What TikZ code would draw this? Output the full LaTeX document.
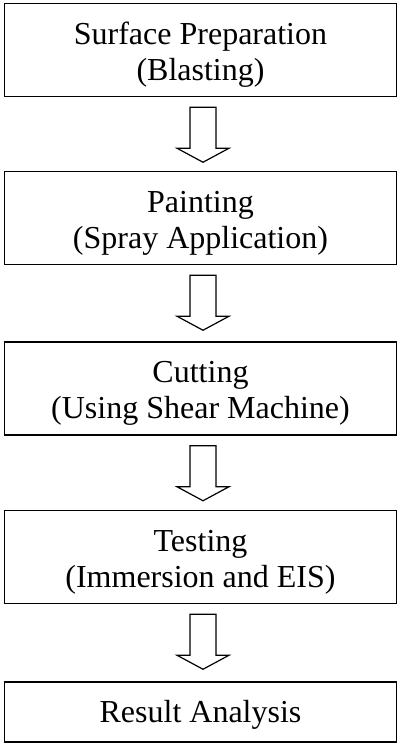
\documentclass[tikz,border=0pt]{standalone}
\usepackage{fontspec}
\setmainfont{Liberation Serif}
\usetikzlibrary{calc}
\tikzset{
  stepbox/.style={draw=black, line width=1.5pt, minimum width=392pt, minimum height=93pt, inner sep=0pt, fill=white},
  txt/.style={align=center, inner sep=0pt, font=\fontsize{32}{36}\selectfont},
  blockarrow/.style={draw=black, line width=1.2pt, line join=miter, fill=white}
}
\newcommand{\flowarrow}[1]{%
  \draw[blockarrow] ($(#1.south)+(2.5,10)$) ++(-13,0) -- ++(26,0) -- ++(0,41) -- ++(13,0) -- ++(-26,14) -- ++(-26,-14) -- ++(13,0) -- cycle;}
\begin{document}
\begin{tikzpicture}[x=1pt,y=-1pt]
\useasboundingbox (0,0) rectangle (400,744);
\node[stepbox] (b1) at (200.5,50) {};
\node[txt] (t1) at (200.5,54.9) {Surface Preparation\\(Blasting)};
\node[stepbox] (b2) at (200.5,218) {};
\node[txt] (t2) at (200.5,222.9) {Painting\\(Spray Application)};
\node[stepbox] (b3) at (200.5,388.5) {};
\node[txt] (t3) at (200.5,393.4) {Cutting\\(Using Shear Machine)};
\node[stepbox] (b4) at (200.5,557) {};
\node[txt] (t4) at (200.5,561.9) {Testing\\(Immersion and EIS)};
\node[stepbox, minimum height=60pt] (b5) at (200.5,712) {};
\node[txt] (t5) at (200.5,715.3) {Result Analysis};
\flowarrow{b1}
\flowarrow{b2}
\flowarrow{b3}
\flowarrow{b4}
\end{tikzpicture}
\end{document}
